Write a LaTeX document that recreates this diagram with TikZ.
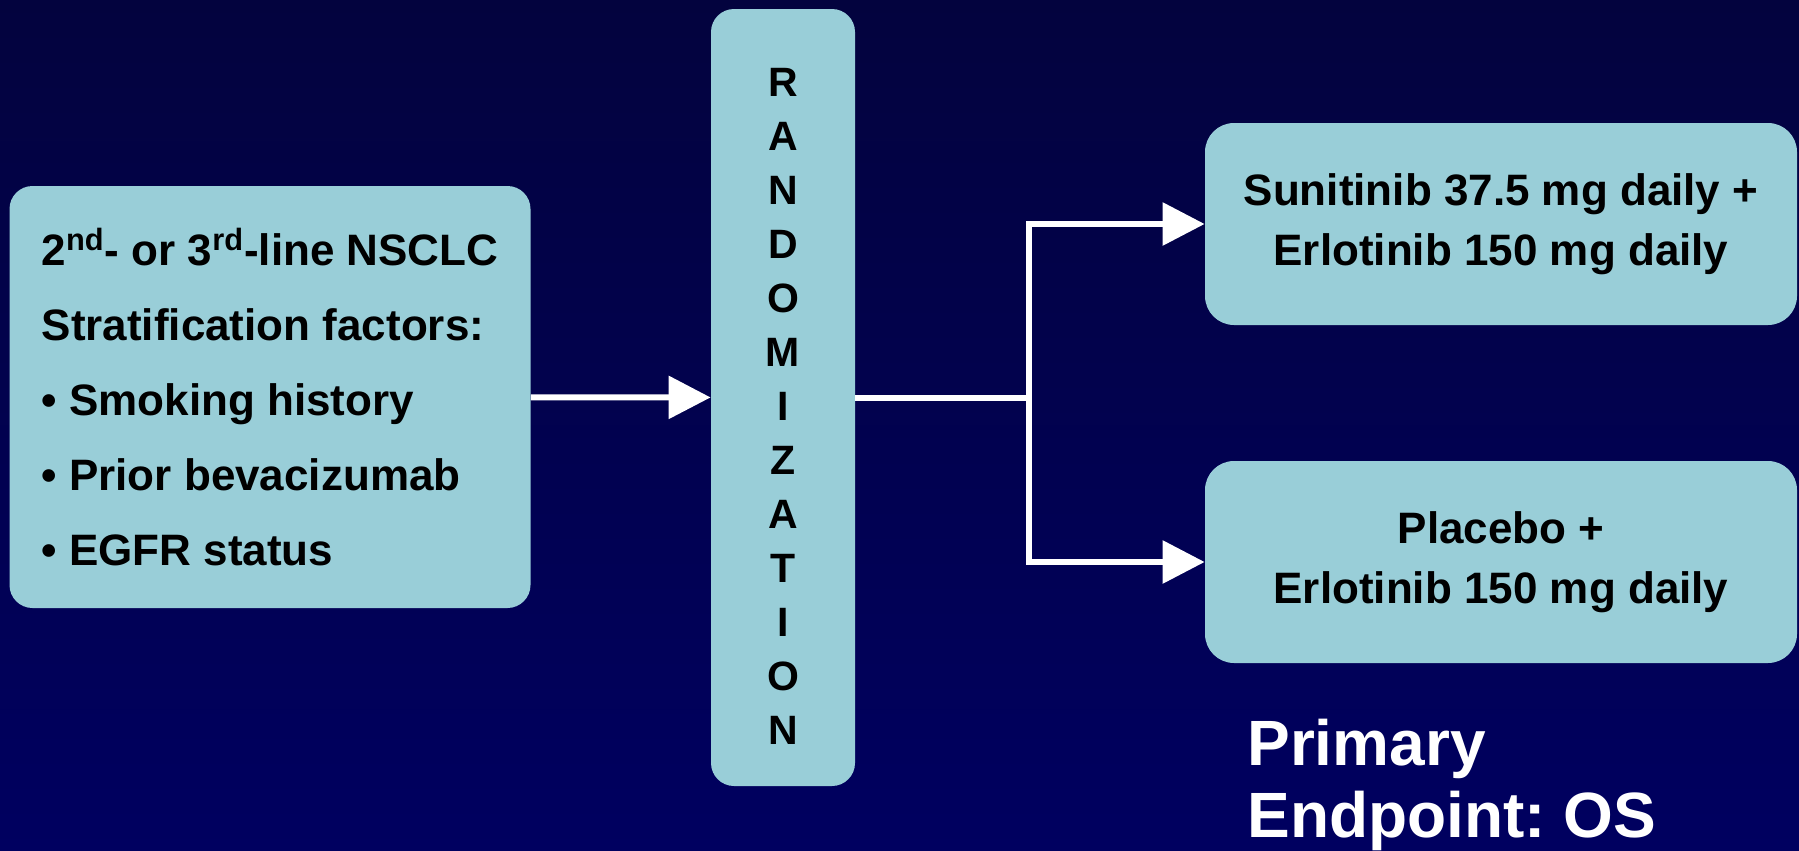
\documentclass[tikz,border=0pt]{standalone}
\usepackage{fontspec}
\setmainfont{Liberation Sans}
\usepackage{xcolor}
\usetikzlibrary{arrows.meta}
\definecolor{boxblue}{RGB}{153,206,216}
\definecolor{bgtop}{RGB}{3,3,62}
\definecolor{bgbottom}{RGB}{0,0,96}

\begin{document}
\begin{tikzpicture}[x=0.5pt, y=-0.5pt,
    box/.style={rectangle, rounded corners=11.5pt, fill=boxblue, inner sep=0pt,
      font=\bfseries\fontsize{22}{30}\selectfont, align=center},
    arm/.style={draw=white, line width=3pt},
    >={Triangle[length=21pt,width=21pt]}]

  \shade[top color=bgtop, bottom color=bgbottom] (0,0) rectangle (1799,851);
  \useasboundingbox (0,0) rectangle (1799,851);

  \node[box, minimum width=260.5pt, minimum height=211pt, align=left,
    font=\bfseries\fontsize{22}{37.5}\selectfont] (pop) at (270,397)
    {2\textsuperscript{nd}- or 3\textsuperscript{rd}-line NSCLC\\
     Stratification factors:\\
     \textbullet{} Smoking history\\
     \textbullet{} Prior bevacizumab\\
     \textbullet{} EGFR status};
  \node[box, minimum width=72pt, minimum height=388.5pt,
    font=\bfseries\fontsize{20.5}{27}\selectfont] (rand) at (783,397.5)
    {\rule{0pt}{22.5pt}R\\A\\N\\D\\O\\M\\I\\Z\\A\\T\\I\\O\\N};
  \node[box, rounded corners=14.5pt, minimum width=296pt, minimum height=101pt] (suni) at (1501,224)
    {Sunitinib 37.5 mg daily +\\Erlotinib 150 mg daily};
  \node[box, rounded corners=14.5pt, minimum width=296pt, minimum height=101pt] (plac) at (1501,562)
    {Placebo +\\Erlotinib 150 mg daily};
  \node[anchor=base west, inner sep=0pt, align=left, text=white,
    font=\bfseries\fontsize{32}{36}\selectfont\frenchspacing] (endpt) at (1247,837)
    {Primary\\Endpoint: OS};

  \coordinate (split) at (1029,397.5);
  \draw[arm,->] (pop) -- (rand);
  \draw[arm] (rand) -- (split);
  \draw[arm,->] (split) |- (suni);
  \draw[arm,->] (split) |- (plac);
\end{tikzpicture}
\end{document}
